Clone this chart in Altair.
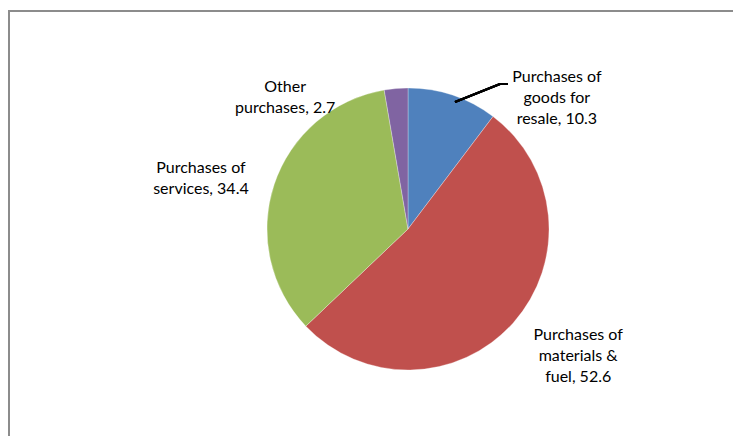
import altair as alt
import pandas as pd

categories = ["Purchases of goods for resale", "Purchases of materials & fuel",
              "Purchases of services", "Other purchases"]
values = [10.3, 52.6, 34.4, 2.7]
label_lines = [["Purchases of", "goods for", "resale, 10.3"],
               ["Purchases of", "materials &", "fuel, 52.6"],
               ["Purchases of", "services, 34.4"],
               ["Other", "purchases, 2.7"]]
colors = ["#4F81BD", "#C0504D", "#9BBB59", "#8064A2"]

df = pd.DataFrame({
    "category": categories,
    "value": values,
    "order": list(range(len(categories))),
    "label": label_lines,
})
total = sum(values)

CX, CY = 400, 221
FONT = "Lato"
theta_scale = alt.Scale(domain=[0, total])

pie = alt.Chart(df).mark_arc(radius=141, stroke="white", strokeWidth=0.3).encode(
    theta=alt.Theta("value:Q", stack=True, scale=theta_scale),
    order=alt.Order("order:Q"),
    x=alt.value(CX), y=alt.value(CY),
    color=alt.Color("category:N", scale=alt.Scale(domain=categories, range=colors), legend=None),
)

# label placement (radius, dx, dy) per category
place = {
    categories[0]: (160, 98, 0),
    categories[1]: (200, 21, -27),
    categories[2]: (215, -3, 7),
    categories[3]: (140, -111, -3),
}

labels = []
for cat, (r, dx, dy) in place.items():
    labels.append(
        alt.Chart(df)
        .transform_window(cum="sum(value)", sort=[alt.SortField("order")])
        .transform_calculate(mid="datum.cum - datum.value / 2")
        .transform_filter(alt.datum.category == cat)
        .mark_text(font=FONT, fontSize=16, color="#000000", align="center",
                   baseline="middle", lineHeight=21, dx=dx, dy=dy)
        .encode(theta=alt.Theta("mid:Q", stack=False, scale=theta_scale),
                x=alt.value(CX), y=alt.value(CY), radius=alt.value(r), text="label")
    )

frame = alt.Chart(df).mark_rect(fill="transparent", stroke="#8c8c8c", strokeWidth=2).encode(
    x=alt.value(1), y=alt.value(3), x2=alt.value(800), y2=alt.value(500)
)

leader1 = alt.Chart(df).mark_rule(color="#000000", strokeWidth=2).encode(
    x=alt.value(447), y=alt.value(94), x2=alt.value(492), y2=alt.value(76)
)
leader2 = alt.Chart(df).mark_rule(color="#000000", strokeWidth=2).encode(
    x=alt.value(492), y=alt.value(76), x2=alt.value(500), y2=alt.value(76)
)

chart = alt.layer(frame, pie, leader1, leader2, *labels).properties(
    width=725, height=428, padding=0,
    autosize=alt.AutoSizeParams(type="none"),
).configure_view(strokeWidth=0)

chart.save("out.html", embed_options={"renderer": "svg", "actions": False})
